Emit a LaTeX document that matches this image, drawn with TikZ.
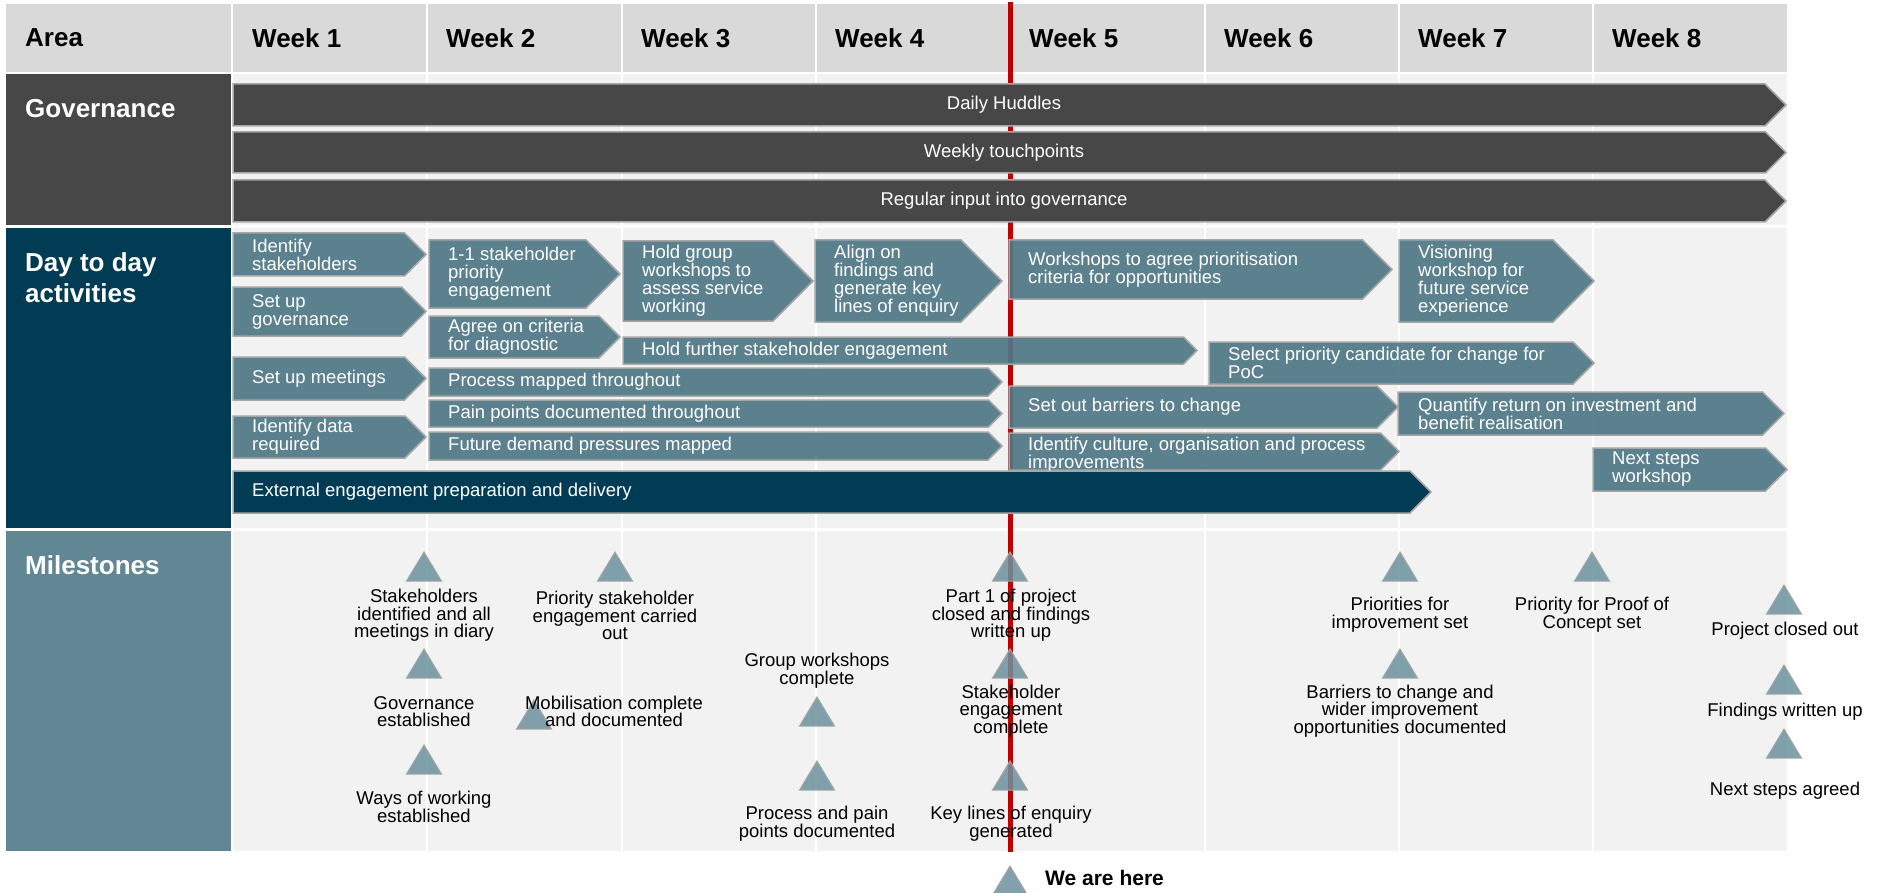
\documentclass[tikz,border=0pt]{standalone}
\usepackage{fontspec}
\setmainfont{Liberation Sans}
\usepackage{tikz}
\definecolor{hdgrey}{HTML}{D9D9D9}
\definecolor{bodygrey}{HTML}{F2F2F2}
\definecolor{govgrey}{HTML}{474747}
\definecolor{dayteal}{HTML}{023C54}
\definecolor{msarea}{HTML}{618795}
\definecolor{actteal}{HTML}{4F7786}
\definecolor{msteal}{HTML}{6C929F}
\definecolor{edgegrey}{HTML}{A6A6A6}
\definecolor{nowred}{HTML}{C00000}
\newcommand{\chevron}[4]% left, top, tip, bottom
{(#1,#2) -- ({#3-(#4-#2)/2},#2) -- (#3,{(#2+#4)/2}) -- ({#3-(#4-#2)/2},#4) -- (#1,#4) -- cycle
}
\newcommand{\milestone}[2]% apex x, apex y
{(#1,#2) -- (#1+17.5,#2+29) -- (#1-17.5,#2+29) -- cycle
}

\begin{document}
\begin{tikzpicture}[x=1pt,y=-1pt,
	govbar/.style={fill=govgrey, draw=edgegrey, line width=1.5pt},
	actbar/.style={fill=actteal, fill opacity=0.92, draw=edgegrey, line width=1.5pt},
	extbar/.style={fill=dayteal, draw=edgegrey, line width=1.5pt},
	msmark/.style={fill=msteal, fill opacity=0.85, draw=edgegrey, line width=1pt},
	wkline/.style={draw=white, line width=2.5pt},
	nowline/.style={draw=nowred, line width=5pt},
	hdtext/.style={anchor=west, inner sep=0, align=left, font=\fontsize{26}{31}\selectfont\bfseries},
	areatext/.style={hdtext, text=white},
	bartext/.style={inner sep=0, text=white, font=\fontsize{18.5}{18}\selectfont},
	acttext/.style={bartext, anchor=west, align=left},
	mstext/.style={inner sep=0, align=center, font=\fontsize{18.5}{17.7}\selectfont}]
	\useasboundingbox[fill=white] (0,0) rectangle (1881,893);
	% header and body cells
	\fill[hdgrey] (6,4) rectangle (231,72);
	\fill[hdgrey] (233,4) rectangle (1787,72);
	\fill[bodygrey] (233,74) rectangle (1787,225);
	\fill[bodygrey] (233,228) rectangle (1787,528);
	\fill[bodygrey] (233,531) rectangle (1787,851);
	\draw[wkline] (427,4) -- (427,851) (622,4) -- (622,851) (816,4) -- (816,851)
		(1010,4) -- (1010,851) (1205,4) -- (1205,851) (1399,4) -- (1399,851) (1593,4) -- (1593,851);
	\fill[govgrey] (6,74) rectangle (231,225);
	\fill[dayteal] (6,228) rectangle (231,528);
	\fill[msarea] (6,531) rectangle (231,851);
	\node[hdtext] (area) at (25,38) {Area};
	\node[hdtext] (wk1) at (252,38) {Week 1};
	\node[hdtext] (wk2) at (446,38) {Week 2};
	\node[hdtext] (wk3) at (641,38) {Week 3};
	\node[hdtext] (wk4) at (835,38) {Week 4};
	\node[hdtext] (wk5) at (1029,38) {Week 5};
	\node[hdtext] (wk6) at (1224,38) {Week 6};
	\node[hdtext] (wk7) at (1418,38) {Week 7};
	\node[hdtext] (wk8) at (1612,38) {Week 8};
	\node[areatext] (govlbl) at (25,109) {Governance};
	\node[areatext] (daylbl) at (25,277.5) {Day to day\\activities};
	\node[areatext] (mslbl) at (25,565) {Milestones};
	% where we are now
	\draw[nowline] (1010,2) -- (1010,852);
	% governance
	\draw[govbar] \chevron{233}{84}{1786}{126};
	\node[bartext] (huddles) at (1004,105) {Daily Huddles};
	\draw[govbar] \chevron{233}{132}{1786}{173};
	\node[bartext] (touch) at (1004,152.5) {Weekly touchpoints};
	\draw[govbar] \chevron{233}{180}{1786}{222};
	\node[bartext] (reginput) at (1004,201) {Regular input into governance};
	% day to day activities
	\draw[actbar] \chevron{233}{233}{426}{276};
	\node[acttext] (idstake) at (252,254.5) {Identify\\stakeholders};
	\draw[actbar] \chevron{233}{287}{426}{336};
	\node[acttext] (setgov) at (252,311.5) {Set up\\governance};
	\draw[actbar] \chevron{233}{357}{426}{400};
	\node[acttext] (setmeet) at (252,378.5) {Set up meetings};
	\draw[actbar] \chevron{233}{416}{426}{458};
	\node[acttext] (iddata) at (252,437) {Identify data\\required};
	\draw[actbar] \chevron{429}{240}{620}{308};
	\node[acttext] (oneone) at (448,274) {1-1 stakeholder\\priority\\engagement};
	\draw[actbar] \chevron{429}{316}{620}{358};
	\node[acttext] (agree) at (448,337) {Agree on criteria\\for diagnostic};
	\draw[actbar] \chevron{429}{368}{1002}{396};
	\node[acttext] (procmap) at (448,382) {Process mapped throughout};
	\draw[actbar] \chevron{429}{400}{1002}{427};
	\node[acttext] (painpts) at (448,413.5) {Pain points documented throughout};
	\draw[actbar] \chevron{429}{432}{1002}{460};
	\node[acttext] (futdem) at (448,446) {Future demand pressures mapped};
	\draw[actbar] \chevron{623}{241}{813}{321};
	\node[acttext] (holdgrp) at (642,281) {Hold group\\workshops to\\assess service\\working};
	\draw[actbar] \chevron{623}{337}{1197}{364};
	\node[acttext] (holdfur) at (642,350.5) {Hold further stakeholder engagement};
	\draw[actbar] \chevron{815}{240}{1002}{322};
	\node[acttext] (alignfind) at (834,281) {Align on\\findings and\\generate key\\lines of enquiry};
	\draw[actbar] \chevron{1009}{240}{1392}{299};
	\node[acttext] (wsprio) at (1028,269.5) {Workshops to agree prioritisation\\criteria for opportunities};
	\draw[actbar] \chevron{1209}{342}{1594}{384};
	\node[acttext] (selprio) at (1228,363) {Select priority candidate for change for\\PoC};
	\draw[actbar] \chevron{1009}{386}{1398}{428};
	\node[acttext] (barrchg) at (1028,407) {Set out barriers to change};
	\draw[actbar] \chevron{1009}{433}{1399}{470};
	\node[acttext] (culture) at (1028,455) {Identify culture, organisation and process\\improvements};
	\draw[actbar] \chevron{1399}{240}{1594}{322};
	\node[acttext] (vision) at (1418,281) {Visioning\\workshop for\\future service\\experience};
	\draw[actbar] \chevron{1398}{392}{1784}{435};
	\node[acttext] (quantify) at (1418,413.5) {Quantify return on investment and\\benefit realisation};
	\draw[actbar] \chevron{1593}{448}{1787}{491};
	\node[acttext] (nextws) at (1612,469.5) {Next steps\\workshop};
	\draw[extbar] \chevron{233}{471}{1431}{513};
	\node[acttext] (extern) at (252,492) {External engagement preparation and delivery};
	% milestones
	\draw[msmark] \milestone{424}{552};
	\node[mstext] (stkid) at (424,615.5) {Stakeholders\\identified and all\\meetings in diary};
	\draw[msmark] \milestone{424}{649};
	\node[mstext] (govest) at (424,711.5) {Governance\\established};
	\draw[msmark] \milestone{424}{745};
	\node[mstext] (wow) at (424,807) {Ways of working\\established};
	\draw[msmark] \milestone{615}{552};
	\node[mstext] (prioeng) at (615,615.5) {Priority stakeholder\\engagement carried\\out};
	\draw[msmark] \milestone{534}{700};
	\node[mstext] (mobil) at (614,711.5) {Mobilisation complete\\and documented};
	\node[mstext] (grpws) at (817,670.5) {Group workshops\\complete};
	\draw[msmark] \milestone{817}{697};
	\draw[msmark] \milestone{817}{761};
	\node[mstext] (procpain) at (817,823.5) {Process and pain\\points documented};
	\draw[msmark] \milestone{1010}{552};
	\node[mstext] (part1) at (1011,615.5) {Part 1 of project\\closed and findings\\written up};
	\draw[msmark] \milestone{1010}{649};
	\node[mstext] (stkeng) at (1011,711) {Stakeholder\\engagement\\complete};
	\draw[msmark] \milestone{1010}{761};
	\node[mstext] (keylines) at (1011,823.5) {Key lines of enquiry\\generated};
	\draw[msmark] \milestone{1400}{552};
	\node[mstext] (priorset) at (1400,615) {Priorities for\\improvement set};
	\draw[msmark] \milestone{1400}{649};
	\node[mstext] (barrdoc) at (1400,711) {Barriers to change and\\wider improvement\\opportunities documented};
	\draw[msmark] \milestone{1592}{552};
	\node[mstext] (poc) at (1592,615) {Priority for Proof of\\Concept set};
	\draw[msmark] \milestone{1784}{585};
	\node[mstext] (closed) at (1785,631) {Project closed out};
	\draw[msmark] \milestone{1784}{665};
	\node[mstext] (findings) at (1785,712) {Findings written up};
	\draw[msmark] \milestone{1784}{729};
	\node[mstext] (nextagr) at (1785,791) {Next steps agreed};
	\draw[msmark] \milestone{1010}{866};
	\node[anchor=west, inner sep=0, font=\fontsize{21}{24}\selectfont\bfseries] (wehere) at (1045,878) {We are here};
\end{tikzpicture}
\end{document}
